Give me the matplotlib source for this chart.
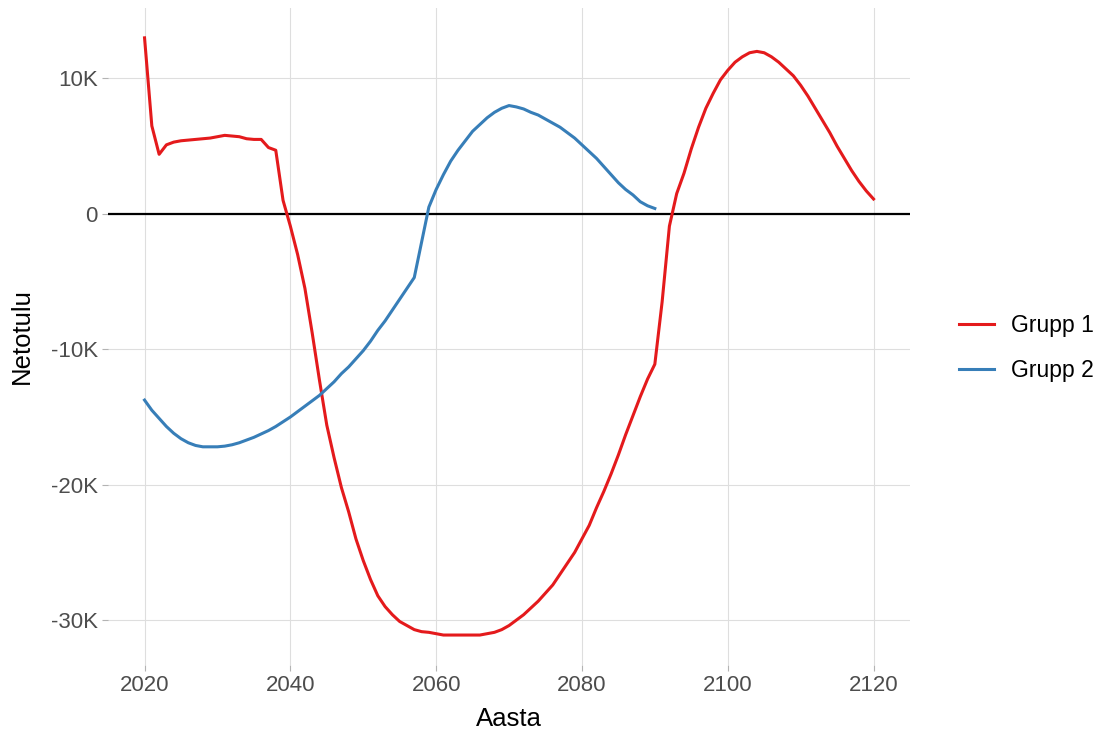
import matplotlib
matplotlib.use("Agg")
import matplotlib.pyplot as plt
from matplotlib.ticker import FuncFormatter

plt.rcParams['font.family'] = ['Liberation Sans', 'DejaVu Sans']

# Grupp 1: 2020..2120, values in thousands
years1 = list(range(2020, 2121))
grupp1 = [13.0, 6.5, 4.4, 5.1, 5.3, 5.4, 5.45, 5.5, 5.55, 5.6,
          5.7, 5.8, 5.75, 5.7, 5.55, 5.5, 5.5, 4.9, 4.7, 1.0,
          -0.9, -3.0, -5.5, -8.8, -12.3, -15.6, -18.0, -20.2, -22.0, -24.0,
          -25.6, -27.0, -28.2, -29.0, -29.6, -30.1, -30.4, -30.7, -30.85, -30.9,
          -31.0, -31.1, -31.1, -31.1, -31.1, -31.1, -31.1, -31.0, -30.9, -30.7,
          -30.4, -30.0, -29.6, -29.1, -28.6, -28.0, -27.4, -26.6, -25.8, -25.0,
          -24.0, -23.0, -21.7, -20.5, -19.2, -17.8, -16.3, -14.9, -13.5, -12.2,
          -11.1, -6.5, -0.9, 1.5, 3.0, 4.8, 6.4, 7.8, 8.9, 9.9,
          10.6, 11.2, 11.6, 11.9, 12.0, 11.9, 11.6, 11.2, 10.7, 10.2,
          9.5, 8.7, 7.8, 6.9, 6.0, 5.0, 4.1, 3.2, 2.4, 1.7,
          1.1]

# Grupp 2: 2020..2090
years2 = list(range(2020, 2091))
grupp2 = [-13.75, -14.5, -15.1, -15.7, -16.2, -16.6, -16.9, -17.1, -17.2, -17.2,
          -17.2, -17.15, -17.05, -16.9, -16.7, -16.5, -16.25, -16.0, -15.7, -15.35,
          -15.0, -14.6, -14.2, -13.8, -13.4, -12.9, -12.4, -11.8, -11.3, -10.7,
          -10.1, -9.4, -8.6, -7.9, -7.1, -6.3, -5.5, -4.7, -2.1, 0.5,
          1.8, 2.9, 3.9, 4.7, 5.4, 6.1, 6.6, 7.1, 7.5, 7.8,
          8.0, 7.9, 7.75, 7.5, 7.3, 7.0, 6.7, 6.4, 6.0, 5.6,
          5.1, 4.6, 4.1, 3.5, 2.9, 2.3, 1.8, 1.4, 0.9, 0.6,
          0.4]

fig = plt.figure(figsize=(11.03, 7.33), dpi=100)
ax = fig.add_axes([0.098, 0.093, 0.727, 0.896])

ax.axhline(0, color='black', linewidth=1.6, zorder=2)
ax.plot(years1, [v * 1000 for v in grupp1], color='#E41A1C', linewidth=2.2, label='Grupp 1', zorder=3)
ax.plot(years2, [v * 1000 for v in grupp2], color='#377EB8', linewidth=2.2, label='Grupp 2', zorder=3)

ax.set_xlim(2015, 2125)
ax.set_ylim(-33300, 15200)
ax.set_xticks([2020, 2040, 2060, 2080, 2100, 2120])
ax.set_yticks([-30000, -20000, -10000, 0, 10000])
ax.yaxis.set_major_formatter(FuncFormatter(lambda v, p: '0' if v == 0 else '%dK' % (v / 1000)))

ax.grid(True, color='#dedede', linewidth=0.8)
ax.set_axisbelow(True)
for s in ax.spines.values():
    s.set_visible(False)
ax.tick_params(axis='both', colors='#b3b3b3', length=4, width=0.8, labelsize=16, labelcolor='#4d4d4d')

ax.set_xlabel('Aasta', fontsize=18.5, color='black', labelpad=8)
ax.set_ylabel('Netotulu', fontsize=18.5, color='black', labelpad=12)

ax.legend(loc='center left', bbox_to_anchor=(1.035, 0.482), frameon=False, fontsize=16.5,
          handlelength=1.55, handletextpad=0.75, labelspacing=0.95)

fig.savefig('out.png', dpi=100)
